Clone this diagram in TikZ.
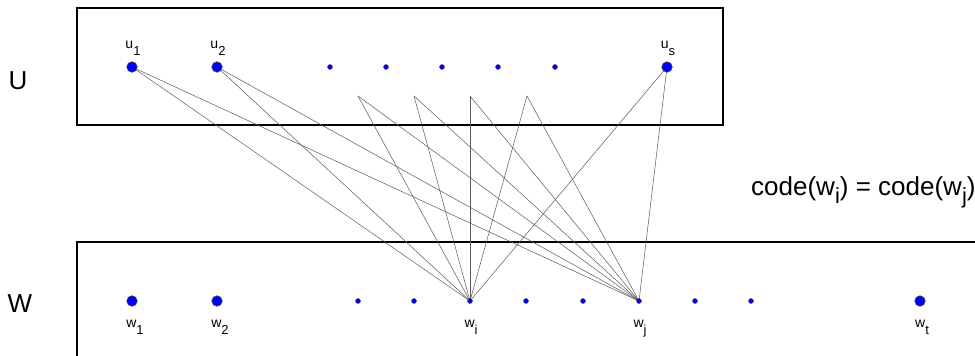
\documentclass[tikz,border=0pt]{standalone}
\usepackage{fontspec}
\setmainfont{Liberation Sans}
\newcommand{\lbl}[4]{#1\raisebox{-#4}{\fontsize{#3}{#3}\selectfont #2}}
\begin{document}
\begin{tikzpicture}[x=1pt,y=-1pt,
  bigdot/.style={circle,fill=blue,draw=black!75,line width=0.6pt,inner sep=0pt,minimum size=10.5pt},
  smalldot/.style={circle,fill=blue,draw=black!75,line width=0.4pt,inner sep=0pt,minimum size=5pt},
  frame/.style={draw=black,line width=1.6pt},
  edge/.style={draw=black!65,line width=0.5pt},
  lab/.style={font=\fontsize{14}{14}\selectfont,inner sep=0pt},
  setlab/.style={font=\fontsize{26}{26}\selectfont,inner sep=0pt}]
\useasboundingbox (0,0) rectangle (975,356);
% frames
\draw[frame] (77,8) rectangle (723,125);
\draw[frame] (77,358) -- (77,242) -- (976,242);
% peak points
\coordinate (p1) at (358,96);
\coordinate (p2) at (414,96);
\coordinate (p3) at (470,96);
\coordinate (p4) at (527,96);
% node positions
\coordinate (cu1) at (132,67);
\coordinate (cu2) at (217,67);
\coordinate (cus) at (667,67);
\coordinate (cwi) at (470,301);
\coordinate (cwj) at (639,301);
% edges
\foreach \a in {cu1,cu2,cus,p1,p2,p3,p4}{
  \draw[edge] (\a) -- (cwi);
  \draw[edge] (\a) -- (cwj);
}
% U nodes
\node[bigdot] (u1) at (cu1) {};
\node[bigdot] (u2) at (cu2) {};
\node[smalldot] (ud1) at (330,67) {};
\node[smalldot] (ud2) at (386,67) {};
\node[smalldot] (ud3) at (442,67) {};
\node[smalldot] (ud4) at (498,67) {};
\node[smalldot] (ud5) at (555,67) {};
\node[bigdot] (us) at (cus) {};
% W nodes
\node[bigdot] (w1) at (132,301) {};
\node[bigdot] (w2) at (217,301) {};
\node[smalldot] (wd1) at (358,301) {};
\node[smalldot] (wd2) at (414,301) {};
\node[smalldot] (wi) at (cwi) {};
\node[smalldot] (wd3) at (526,301) {};
\node[smalldot] (wd4) at (583,301) {};
\node[smalldot] (wj) at (cwj) {};
\node[smalldot] (wd5) at (695,301) {};
\node[smalldot] (wd6) at (751,301) {};
\node[bigdot] (wt) at (920,301) {};
% labels
\node[lab,anchor=base] (lu1) at (133,48) {\lbl{u}{1}{13}{7pt}};
\node[lab,anchor=base] (lu2) at (218,48) {\lbl{u}{2}{13}{7pt}};
\node[lab,anchor=base] (lus) at (668,48) {\lbl{u}{s}{13}{7pt}};
\node[lab,anchor=base] (lw1) at (135,327) {\lbl{w}{1}{13}{7pt}};
\node[lab,anchor=base] (lw2) at (220,327) {\lbl{w}{2}{13}{7pt}};
\node[lab,anchor=base] (lwi) at (471,327) {\lbl{w}{i}{13}{7pt}};
\node[lab,anchor=base] (lwj) at (640,327) {\lbl{w}{j}{13}{7pt}};
\node[lab,anchor=base] (lwt) at (922,327) {\lbl{w}{t}{13}{7pt}};
\node[setlab,anchor=base] (U) at (18,89) {U};
\node[setlab,anchor=base] (W) at (20,312) {W};
\node[font=\fontsize{26}{26}\selectfont,inner sep=0pt,anchor=base west] (code) at (751,195)
  {code(\lbl{w}{i}{22}{8pt}) = code(\lbl{w}{j}{22}{8pt})};
\end{tikzpicture}
\end{document}
